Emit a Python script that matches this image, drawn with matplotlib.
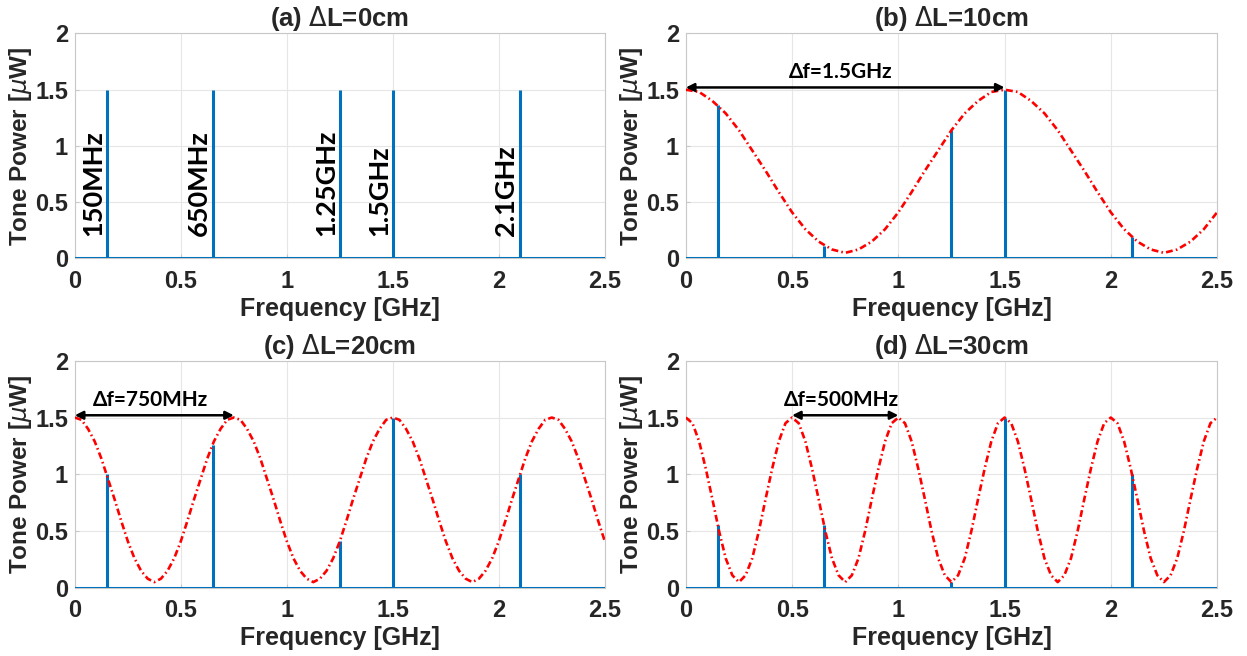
import matplotlib
matplotlib.use("Agg")
import matplotlib.pyplot as plt
import numpy as np

# tone frequencies [GHz] and labels
tone_freq = [0.15, 0.65, 1.25, 1.5, 2.1]
tone_labels = ['150MHz', '650MHz', '1.25GHz', '1.5GHz', '2.1GHz']

# tone powers [uW] per panel
power_a = [1.50, 1.50, 1.50, 1.50, 1.50]
power_b = [1.36, 0.11, 1.14, 1.50, 0.19]
power_c = [1.00, 1.26, 0.41, 1.50, 1.00]
power_d = [0.55, 0.55, 0.05, 1.50, 1.00]

# red envelope
env_freq_b = np.linspace(0, 2.5, 41)
env_b = [1.50, 1.48, 1.40, 1.29, 1.14, 0.96, 0.78, 0.59, 0.41, 0.26, 0.15, 0.08, 0.05,
         0.08, 0.15, 0.26, 0.41, 0.59, 0.78, 0.96, 1.14, 1.29, 1.40, 1.48,
         1.50, 1.48, 1.40, 1.29, 1.14, 0.96, 0.78, 0.59, 0.41, 0.26, 0.15, 0.08, 0.05,
         0.08, 0.15, 0.26, 0.41]

env_freq_cd = np.linspace(0, 2.5, 81)
env_c = [1.50, 1.48, 1.40, 1.29, 1.14, 0.96, 0.78, 0.59, 0.41, 0.26, 0.15, 0.08, 0.05,
         0.08, 0.15, 0.26, 0.41, 0.59, 0.78, 0.96, 1.14, 1.29, 1.40, 1.48,
         1.50, 1.48, 1.40, 1.29, 1.14, 0.96, 0.78, 0.59, 0.41, 0.26, 0.15, 0.08, 0.05,
         0.08, 0.15, 0.26, 0.41, 0.59, 0.78, 0.96, 1.14, 1.29, 1.40, 1.48,
         1.50, 1.48, 1.40, 1.29, 1.14, 0.96, 0.78, 0.59, 0.41, 0.26, 0.15, 0.08, 0.05,
         0.08, 0.15, 0.26, 0.41, 0.59, 0.78, 0.96, 1.14, 1.29, 1.40, 1.48,
         1.50, 1.48, 1.40, 1.29, 1.14, 0.96, 0.78, 0.59, 0.41]
env_d = [1.50, 1.45, 1.29, 1.05, 0.78, 0.50, 0.26, 0.11, 0.05, 0.11, 0.26, 0.50, 0.78, 1.05, 1.29, 1.45,
         1.50, 1.45, 1.29, 1.05, 0.78, 0.50, 0.26, 0.11, 0.05, 0.11, 0.26, 0.50, 0.78, 1.05, 1.29, 1.45,
         1.50, 1.45, 1.29, 1.05, 0.78, 0.50, 0.26, 0.11, 0.05, 0.11, 0.26, 0.50, 0.78, 1.05, 1.29, 1.45,
         1.50, 1.45, 1.29, 1.05, 0.78, 0.50, 0.26, 0.11, 0.05, 0.11, 0.26, 0.50, 0.78, 1.05, 1.29, 1.45,
         1.50, 1.45, 1.29, 1.05, 0.78, 0.50, 0.26, 0.11, 0.05, 0.11, 0.26, 0.50, 0.78, 1.05, 1.29, 1.45,
         1.50]

titles = [r'(a) $\Delta$L=0cm', r'(b) $\Delta$L=10cm', r'(c) $\Delta$L=20cm', r'(d) $\Delta$L=30cm']
# spacing arrows: (start, end, label)
arrows = [None, (0.0, 1.5, 'Δf=1.5GHz'), (0.0, 0.75, 'Δf=750MHz'), (0.5, 1.0, 'Δf=500MHz')]

blue = '#0072BD'
tick_font = 'Liberation Sans'
note_font = ['Lato', 'DejaVu Sans']

fig = plt.figure(figsize=(12.47, 6.56), dpi=100)
boxes = [[0.060, 0.606, 0.425, 0.343], [0.550, 0.606, 0.426, 0.343],
         [0.060, 0.104, 0.425, 0.346], [0.550, 0.104, 0.426, 0.346]]
powers = [power_a, power_b, power_c, power_d]
envs = [None, (env_freq_b, env_b), (env_freq_cd, env_c), (env_freq_cd, env_d)]

for i in range(4):
    ax = fig.add_axes(boxes[i])
    ax.axhline(0, color=blue, lw=2.2, zorder=3)
    ax.vlines(tone_freq, 0, powers[i], color=blue, lw=2.2, zorder=3)
    if envs[i] is not None:
        ax.plot(envs[i][0], envs[i][1], color='r', lw=1.9, zorder=4,
                linestyle=(0, (2.6, 1.2, 0.6, 1.2)))
    if arrows[i] is not None:
        x0, x1, lab = arrows[i]
        ax.annotate('', xy=(x0, 1.52), xytext=(x1, 1.52),
                    arrowprops=dict(arrowstyle='<|-|>', color='k', lw=1.8,
                                    mutation_scale=12, shrinkA=0, shrinkB=0), zorder=5)
        ax.text((x0 + x1) / 2 - 0.02, 1.57, lab, ha='center', va='bottom',
                fontsize=15, fontweight='bold', family=note_font)
    if i == 0:
        for f, lab in zip(tone_freq, tone_labels):
            ax.text(f - 0.008, 0.2, lab, rotation=90, ha='right', va='bottom',
                    fontsize=19.5, fontweight='bold', family=note_font)

    ax.set_xlim(0, 2.5)
    ax.set_ylim(0, 2)
    ax.set_xticks([0, 0.5, 1, 1.5, 2, 2.5])
    ax.set_xticklabels(['0', '0.5', '1', '1.5', '2', '2.5'])
    ax.set_yticks([0, 0.5, 1, 1.5, 2])
    ax.set_yticklabels(['0', '0.5', '1', '1.5', '2'])
    ax.grid(True, color='#e6e6e6', lw=0.8)
    ax.set_axisbelow(True)
    for s in ax.spines.values():
        s.set_color('#c8c8c8')
        s.set_linewidth(0.8)
    ax.tick_params(direction='in', length=3, color='#c8c8c8', labelsize=17)
    ax.tick_params(axis='x', pad=8)
    ax.tick_params(axis='y', pad=5)
    for t in ax.get_xticklabels() + ax.get_yticklabels():
        t.set_fontweight('bold')
        t.set_family(tick_font)
        t.set_color('#262626')
    ax.set_xlabel('Frequency [GHz]', fontsize=18, fontweight='bold',
                  family=tick_font, color='#262626', labelpad=3)
    ax.set_ylabel(r'Tone Power [$\mu$W]', fontsize=17.5, fontweight='bold',
                  family=tick_font, color='#262626', labelpad=1)
    ax.set_title(titles[i], fontsize=18.5, fontweight='bold', family=tick_font,
                 color='#262626', pad=3)

fig.savefig('out.png', dpi=100)
